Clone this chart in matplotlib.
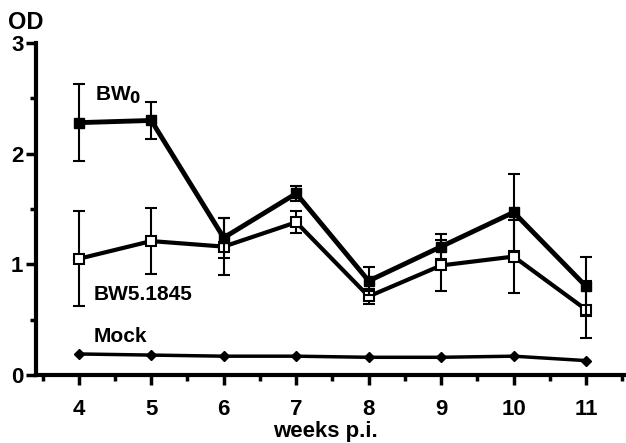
import matplotlib
matplotlib.use("Agg")
import matplotlib.pyplot as plt

weeks = [4, 5, 6, 7, 8, 9, 10, 11]

bw0 = [2.28, 2.30, 1.24, 1.64, 0.85, 1.16, 1.47, 0.80]
bw0_err = [0.35, 0.17, 0.18, 0.07, 0.13, 0.11, 0.35, 0.27]

bw5 = [1.05, 1.21, 1.16, 1.38, 0.71, 0.99, 1.07, 0.59]
bw5_err = [0.43, 0.30, 0.26, 0.10, 0.07, 0.23, 0.33, 0.26]

mock = [0.19, 0.18, 0.17, 0.17, 0.16, 0.16, 0.17, 0.13]

plt.rcParams['font.family'] = ['Liberation Sans', 'DejaVu Sans']
plt.rcParams['font.weight'] = 'bold'

fig = plt.figure(figsize=(6.26, 4.43), dpi=100)
ax = fig.add_axes([0.0575, 0.1535, 0.9425, 0.7495])

ax.errorbar(weeks, bw5, yerr=bw5_err, color='black', lw=3, marker='s',
            ms=6.5, mfc='white', mec='black', mew=1.5, ecolor='black',
            elinewidth=1.5, capsize=4, capthick=1.5, zorder=3)
ax.errorbar(weeks, bw0, yerr=bw0_err, color='black', lw=3.5, marker='s',
            ms=7.5, mfc='black', mec='black', ecolor='black',
            elinewidth=1.5, capsize=4, capthick=1.5, zorder=4)
ax.plot(weeks, mock, color='black', lw=2.5, marker='D', ms=5, zorder=3)

ax.text(4.23, 2.48, 'BW$_0$', fontsize=15, fontweight='bold')
ax.text(4.2, 0.68, 'BW5.1845', fontsize=15, fontweight='bold')
ax.text(4.2, 0.30, 'Mock', fontsize=15, fontweight='bold')

ax.set_xlim(3.41, 11.55)
ax.set_ylim(0, 3)
ax.set_xticks(weeks)
ax.set_xticks([w + 0.5 for w in [3] + weeks], minor=True)
ax.set_yticks([0, 1, 2, 3])
ax.set_yticks([0.5, 1.5, 2.5], minor=True)
ax.tick_params(axis='both', which='major', width=2.5, length=7, labelsize=16, pad=2)
ax.tick_params(axis='both', which='minor', width=2.5, length=4)
ax.tick_params(axis='x', pad=10)

for s in ['top', 'right']:
    ax.spines[s].set_visible(False)
for s in ['left', 'bottom']:
    ax.spines[s].set_linewidth(3)

ax.set_xlabel('weeks p.i.', fontsize=16, fontweight='bold')
ax.xaxis.set_label_coords(0.49, -0.138)
fig.text(0.013, 0.935, 'OD', fontsize=17, fontweight='bold')

fig.savefig('out.png', dpi=100)
